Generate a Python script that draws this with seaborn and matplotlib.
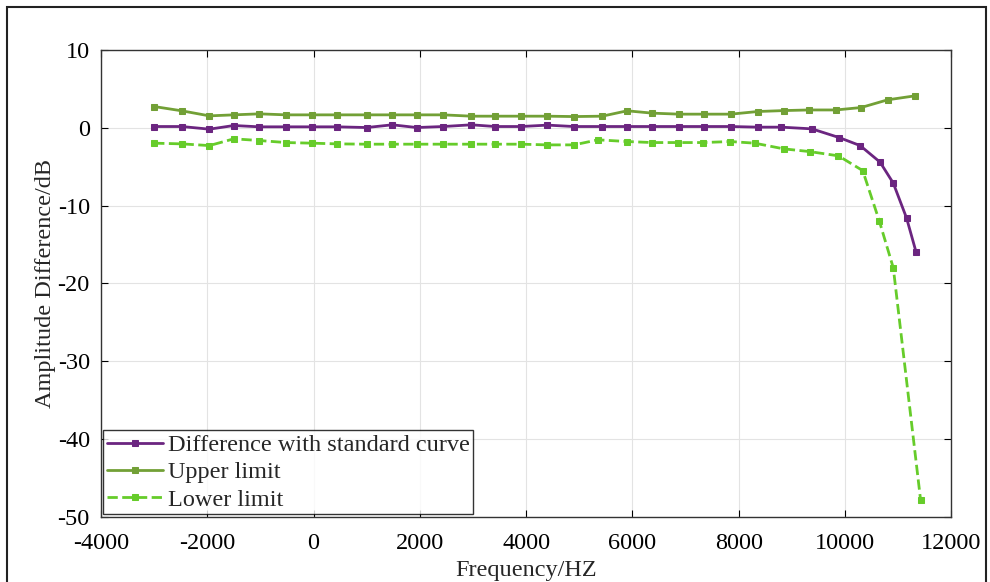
import pandas as pd
import matplotlib.pyplot as plt
import seaborn as sns
from matplotlib.patches import Rectangle

sns.set_theme(style="whitegrid")
plt.rcParams['font.family'] = ['Liberation Serif', 'DejaVu Serif']
plt.rcParams['axes.unicode_minus'] = False

# data
upper_freq = [-3000, -2480, -1960, -1500, -1020, -520, -30, 440, 1000, 1480,
              1940, 2440, 2970, 3420, 3900, 4400, 4900, 5430, 5900, 6370,
              6880, 7350, 7850, 8360, 8850, 9320, 9830, 10300, 10800, 11310]
upper_db = [2.74, 2.19, 1.54, 1.67, 1.8, 1.67, 1.67, 1.67, 1.67, 1.67,
            1.67, 1.67, 1.5, 1.5, 1.5, 1.5, 1.45, 1.5, 2.19, 1.89,
            1.76, 1.76, 1.76, 2.1, 2.22, 2.3, 2.3, 2.61, 3.6, 4.11]

diff_freq = [-3000, -2480, -1960, -1500, -1020, -520, -30, 440, 1000, 1480,
             1940, 2440, 2970, 3420, 3900, 4400, 4900, 5430, 5900, 6370,
             6880, 7350, 7850, 8360, 8800, 9375, 9889, 10283, 10658, 10907,
             11157, 11333]
diff_db = [0.17, 0.17, -0.17, 0.3, 0.13, 0.13, 0.13, 0.13, 0.04, 0.39,
           0.04, 0.17, 0.39, 0.17, 0.17, 0.35, 0.17, 0.17, 0.17, 0.17,
           0.17, 0.17, 0.17, 0.09, 0.09, -0.13, -1.25, -2.28, -4.41, -7.11,
           -11.6, -15.9]

lower_freq = [-3000, -2480, -1960, -1500, -1020, -520, -30, 440, 1000, 1480,
              1940, 2440, 2970, 3420, 3900, 4400, 4900, 5350, 5900, 6370,
              6860, 7330, 7840, 8300, 8845, 9332, 9876, 10332, 10645, 10907,
              11420]
lower_db = [-1.97, -2.06, -2.28, -1.41, -1.63, -1.89, -1.97, -2.06, -2.1, -2.1,
            -2.1, -2.1, -2.1, -2.1, -2.1, -2.19, -2.19, -1.54, -1.76, -1.89,
            -1.89, -1.89, -1.76, -1.97, -2.7, -3.05, -3.6, -5.5, -12.0, -18.0,
            -47.8]

df_diff = pd.DataFrame({'freq': diff_freq, 'db': diff_db})
df_upper = pd.DataFrame({'freq': upper_freq, 'db': upper_db})
df_lower = pd.DataFrame({'freq': lower_freq, 'db': lower_db})

fig = plt.figure(figsize=(9.9, 5.82), dpi=100)
ax = fig.add_axes([0.102, 0.112, 0.859, 0.802])

sns.lineplot(data=df_diff, x='freq', y='db', ax=ax, sort=False, color='#6B2580',
             marker='s', markersize=5, markeredgecolor='#6B2580', linewidth=2,
             label='Difference with standard curve')
sns.lineplot(data=df_upper, x='freq', y='db', ax=ax, sort=False, color='#72A036',
             marker='s', markersize=5, markeredgecolor='#72A036', linewidth=2,
             label='Upper limit')
sns.lineplot(data=df_lower, x='freq', y='db', ax=ax, sort=False, color='#66CC2A',
             marker='s', markersize=5, markeredgecolor='#66CC2A', linewidth=2,
             linestyle='--', dashes=(4, 3), label='Lower limit')

ax.set_xlim(-4000, 12000)
ax.set_ylim(-50, 10)
ax.set_xticks(range(-4000, 12001, 2000))
ax.set_yticks(range(-50, 11, 10))
ax.grid(True, color='#e3e3e3', linewidth=0.8)
ax.tick_params(axis='both', direction='in', length=5, labelsize=17.5, colors='black',
               top=True, right=True, bottom=True, left=True, width=0.8)
ax.tick_params(axis='x', pad=12)
ax.tick_params(axis='y', pad=8)
for s in ax.spines.values():
    s.set_color('#333333')
    s.set_linewidth(1.0)

ax.set_xlabel('Frequency/HZ', fontsize=17.5, labelpad=4)
ax.set_ylabel('Amplitude Difference/dB', fontsize=17.5, labelpad=1)

leg = ax.legend(loc='lower left', fontsize=17.5, frameon=True, fancybox=False,
                edgecolor='black', borderaxespad=0.1, handlelength=2.3,
                labelspacing=0.22, borderpad=0.15, handletextpad=0.2)
leg.get_frame().set_linewidth(1.0)

# outer frame around the figure
fig.patches.append(Rectangle((7 / 990, -0.05), 979 / 990, 1.05 - 7 / 582,
                             transform=fig.transFigure, fill=False,
                             edgecolor='#222222', linewidth=1.5))

fig.savefig('out.png', dpi=100)
